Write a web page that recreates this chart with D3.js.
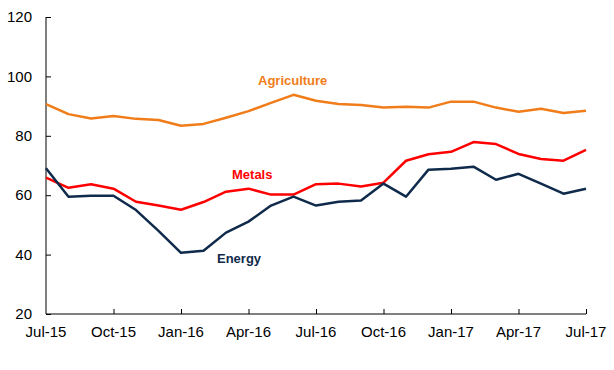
<!DOCTYPE html>
<html>
<head>
<meta charset="utf-8">
<script src="https://cdn.jsdelivr.net/npm/d3@7"></script>
<style>
  body { margin: 0; background: #fff; }
  svg { display: block; font-family: Arial, "Liberation Sans", sans-serif; }
</style>
</head>
<body>
<svg id="chart" width="614" height="370"></svg>
<script>
// monthly index, Jul-15 .. Jul-17
const months = ['Jul-15', 'Aug-15', 'Sep-15', 'Oct-15', 'Nov-15', 'Dec-15',
  'Jan-16', 'Feb-16', 'Mar-16', 'Apr-16', 'May-16', 'Jun-16',
  'Jul-16', 'Aug-16', 'Sep-16', 'Oct-16', 'Nov-16', 'Dec-16',
  'Jan-17', 'Feb-17', 'Mar-17', 'Apr-17', 'May-17', 'Jun-17', 'Jul-17'];

const agriculture = [90.7, 87.3, 85.8, 86.7, 85.7, 85.3, 83.4, 84.0, 86.1, 88.3, 91.1, 93.8,
  91.8, 90.7, 90.4, 89.5, 89.8, 89.5, 91.5, 91.5, 89.5, 88.1, 89.1, 87.7, 88.4];
const metals = [65.9, 62.5, 63.7, 62.2, 57.8, 56.5, 55.1, 57.7, 61.2, 62.2, 60.2, 60.2,
  63.7, 63.9, 62.9, 64.2, 71.6, 73.8, 74.6, 77.9, 77.2, 73.9, 72.2, 71.6, 75.3];
const energy = [69.1, 59.5, 59.8, 59.8, 55.0, 48.0, 40.6, 41.3, 47.4, 51.1, 56.5, 59.5,
  56.5, 57.8, 58.2, 63.9, 59.5, 68.6, 68.9, 69.6, 65.2, 67.2, 63.9, 60.5, 62.2];

const xTicks = ['Jul-15', 'Oct-15', 'Jan-16', 'Apr-16', 'Jul-16', 'Oct-16', 'Jan-17', 'Apr-17', 'Jul-17'];
const yTicks = [20, 40, 60, 80, 100, 120];

const series = [
  { name: 'Agriculture', values: agriculture, color: '#f07d1a', lx: 258, ly: 85 },
  { name: 'Metals', values: metals, color: '#ff0000', lx: 232, ly: 179 },
  { name: 'Energy', values: energy, color: '#0f2a4a', lx: 217, ly: 263 }
];

const svg = d3.select('#chart');
const plotLeft = 46, plotRight = 586, plotTop = 17, plotBottom = 314;

const x = d3.scalePoint().domain(months).range([plotLeft, plotRight]);
const y = d3.scaleLinear().domain([20, 120]).range([plotBottom, plotTop]);

// y axis, ticks point inward
const yAxis = svg.append('g')
  .attr('transform', `translate(${plotLeft},0)`)
  .call(d3.axisRight(y).tickValues(yTicks).tickSize(5).tickFormat(''));
yAxis.select('.domain').attr('d', `M0,${plotTop}V${plotBottom}`);
yAxis.selectAll('line').attr('stroke', '#000');

svg.append('g').selectAll('text')
  .data(yTicks)
  .join('text')
  .attr('x', 32)
  .attr('y', d => y(d))
  .attr('dy', '0.35em')
  .attr('text-anchor', 'end')
  .style('font-size', '15px')
  .style('fill', '#000')
  .text(d => d);

// x axis, ticks point up
const xAxis = svg.append('g')
  .attr('transform', `translate(0,${plotBottom})`)
  .call(d3.axisTop(x).tickValues(xTicks).tickSize(5).tickFormat(''));
xAxis.select('.domain').attr('d', `M${plotLeft},0H${plotRight}`);
xAxis.selectAll('line').attr('stroke', '#000');
xAxis.selectAll('.tick').filter(d => d === 'Jul-15').select('line').remove();

svg.append('g').selectAll('text')
  .data(xTicks)
  .join('text')
  .attr('x', d => x(d))
  .attr('y', 337)
  .attr('text-anchor', 'middle')
  .style('font-size', '15px')
  .style('fill', '#000')
  .text(d => d);

const line = d3.line()
  .x((d, i) => x(months[i]))
  .y(d => y(d));

series.forEach(function (s) {
  svg.append('path')
    .datum(s.values)
    .attr('d', line)
    .attr('fill', 'none')
    .attr('stroke', s.color)
    .attr('stroke-width', 2.5)
    .attr('stroke-linejoin', 'round');

  svg.append('text')
    .attr('x', s.lx)
    .attr('y', s.ly)
    .style('font-size', '13px')
    .style('font-weight', 'bold')
    .style('fill', s.color)
    .text(s.name);
});
</script>
</body>
</html>
